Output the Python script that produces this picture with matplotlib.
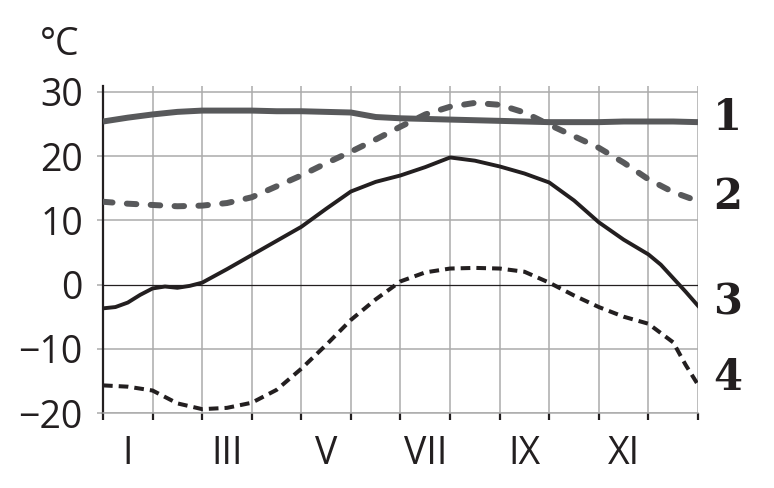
import matplotlib
matplotlib.use("Agg")
import matplotlib.pyplot as plt
import numpy as np

# months from start of January (0) to end of December (12)
months = [0, 0.5, 1, 1.5, 2, 2.5, 3, 3.5, 4, 4.5, 5, 5.5, 6,
          6.5, 7, 7.5, 8, 8.5, 9, 9.5, 10, 10.5, 11, 11.5, 12]

temp1 = [25.4, 26.0, 26.5, 26.9, 27.1, 27.1, 27.1, 27.0, 27.0, 26.9, 26.8, 26.1, 25.9,
         25.8, 25.7, 25.6, 25.5, 25.4, 25.3, 25.3, 25.3, 25.4, 25.4, 25.4, 25.3]
temp2 = [12.9, 12.6, 12.4, 12.2, 12.3, 12.7, 13.6, 15.3, 17.0, 18.9, 20.7, 22.6, 24.6,
         26.5, 27.7, 28.3, 28.0, 26.8, 24.9, 23.1, 21.3, 19.0, 16.4, 14.4, 13.0]

months3 = [0, 0.25, 0.5, 0.75, 1, 1.25, 1.5, 1.75, 2, 2.5, 3, 3.5, 4, 4.5, 5, 5.5, 6,
           6.5, 7, 7.5, 8, 8.5, 9, 9.5, 10, 10.5, 11, 11.25, 11.5, 11.75, 12]
temp3 = [-3.7, -3.5, -2.8, -1.6, -0.6, -0.3, -0.5, -0.2, 0.3, 2.4, 4.6, 6.8, 9.0, 11.8, 14.5,
         16.0, 17.0, 18.3, 19.8, 19.3, 18.4, 17.3, 15.9, 13.1, 9.7, 7.0, 4.7, 3.1, 1.0, -1.1, -3.3]

months4 = [0, 0.5, 1, 1.5, 2, 2.5, 3, 3.5, 4, 4.5, 5, 5.5, 6,
           6.5, 7, 7.5, 8, 8.5, 9, 9.5, 10, 10.5, 11, 11.5, 11.75, 12]
temp4 = [-15.7, -15.9, -16.5, -18.5, -19.4, -19.2, -18.4, -16.4, -13.1, -9.4, -5.5, -2.3, 0.5,
         1.9, 2.5, 2.6, 2.5, 2.0, 0.3, -1.7, -3.5, -5.0, -6.1, -9.0, -12.5, -15.6]

curve_names = ["1", "2", "3", "4"]
label_y = [26.0, 13.7, -2.8, -14.5]

roman = ["I", "III", "V", "VII", "IX", "XI"]
roman_pos = [0.5, 2.5, 4.5, 6.5, 8.5, 10.5]

dark = "#231f20"
gray = "#58595b"
grid = "#ababab"

plt.rcParams["font.family"] = ["Open Sans", "DejaVu Sans"]

fig = plt.figure(figsize=(7.74, 4.88), dpi=100)
ax = fig.add_axes([103 / 774, 1 - 413 / 488, 595 / 774, 327 / 488])

ax.set_xlim(0, 12)
ax.set_ylim(-20, 30.93)

# grid
for m in range(1, 13):
    ax.axvline(m, color=grid, lw=1.1, zorder=1)
for v in [-20, -10, 10, 20, 30]:
    ax.axhline(v, color=grid, lw=1.1, zorder=1)
ax.axhline(0, color=dark, lw=0.9, zorder=2)

ax.plot(months, temp1, color=gray, lw=4.3, solid_capstyle="butt", zorder=4)
ax.plot(months, temp2, color=gray, lw=4.3, dashes=[1.6, 2.4],
        dash_capstyle="round", zorder=4)
ax.plot(months3, temp3, color=dark, lw=2.8, solid_joinstyle="round", zorder=5)
ax.plot(months4, temp4, color=dark, lw=2.9, dashes=[2.4, 1.5], zorder=5)

for name, yv in zip(curve_names, label_y):
    ax.text(12.6, yv, name, ha="center", va="center", fontsize=30,
            fontweight="bold", family="DejaVu Serif", color=dark, clip_on=False)

for s in ["top", "right"]:
    ax.spines[s].set_visible(False)
ax.spines["left"].set_color(dark)
ax.spines["left"].set_linewidth(1.6)
ax.spines["bottom"].set_color(grid)
ax.spines["bottom"].set_linewidth(1.1)

ax.set_yticks([-20, -10, 0, 10, 20, 30])
ax.set_yticklabels(["\u221220", "\u221210", "0", "10", "20", "30"])
ax.tick_params(axis="y", length=4.5, width=1.1, color=grid, pad=10,
               labelsize=27, labelcolor=dark)

ax.set_xticks(range(13))
ax.set_xticklabels([])
ax.set_xticks(roman_pos, minor=True)
ax.set_xticklabels(roman, minor=True)
ax.tick_params(axis="x", which="major", length=5, width=1.6, color=dark)
ax.tick_params(axis="x", which="minor", length=0, pad=16,
               labelsize=27, labelcolor=dark)

fig.text(40 / 774, 1 - 55 / 488, "\u00b0C", fontsize=27, color=dark,
         ha="left", va="baseline")

fig.savefig("out.png", dpi=100)
